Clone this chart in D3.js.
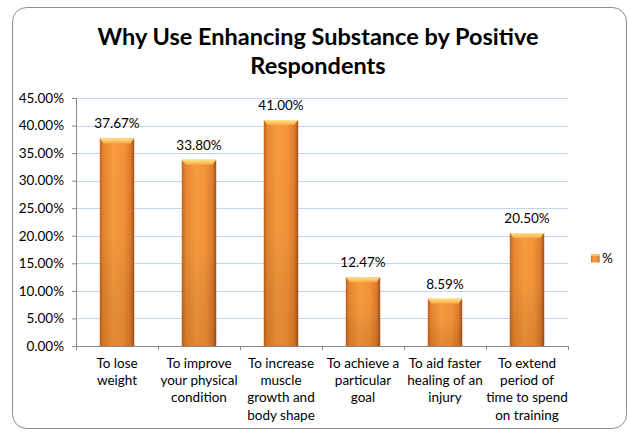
<!DOCTYPE html>
<html><head><meta charset="utf-8">
<script src="https://cdn.jsdelivr.net/npm/d3@7"></script>
<style>body{margin:0;background:#fff}svg{display:block}</style>
</head><body>
<svg id="c" width="629" height="432"></svg>
<script>
const categories = [
  ["To lose","weight"],
  ["To improve","your physical","condition"],
  ["To increase","muscle","growth and","body shape"],
  ["To achieve a","particular","goal"],
  ["To aid faster","healing of an","injury"],
  ["To extend","period of","time to spend","on training"]
];
const values = [37.67, 33.80, 41.00, 12.47, 8.59, 20.50];
const yTicks = [0,5,10,15,20,25,30,35,40,45];
const titleLines = ["Why Use Enhancing Substance by Positive","Respondents"];
const legendLabel = "%";

const svg = d3.select("#c");
const font = "Lato, 'Open Sans', sans-serif";
const defs = svg.append("defs");
const g1 = defs.append("linearGradient").attr("id","barH").attr("x1",0).attr("x2",1).attr("y1",0).attr("y2",0);
[[0,"#c2621f"],[0.1,"#e5862f"],[0.4,"#f79c3e"],[0.7,"#f39439"],[0.9,"#dc7a2b"],[1,"#9a5020"]].forEach(s=>g1.append("stop").attr("offset",s[0]).attr("stop-color",s[1]));
const g2 = defs.append("linearGradient").attr("id","barV").attr("x1",0).attr("x2",0).attr("y1",0).attr("y2",1);
[[0,"#000",0],[0.5,"#000",0.02],[1,"#7a2a00",0.16]].forEach(s=>g2.append("stop").attr("offset",s[0]).attr("stop-color",s[1]).attr("stop-opacity",s[2]));
const g3 = defs.append("linearGradient").attr("id","cap").attr("x1",0).attr("x2",0).attr("y1",0).attr("y2",1);
[[0,"#ffe48a"],[1,"#f9a845"]].forEach(s=>g3.append("stop").attr("offset",s[0]).attr("stop-color",s[1]));

svg.append("rect").attr("x",12.5).attr("y",7.5).attr("width",614).attr("height",421).attr("rx",14)
  .attr("fill","#fff").attr("stroke","#8c8c8c").attr("stroke-width",1);

svg.append("text").attr("text-anchor","middle").attr("font-family",font).attr("font-weight","bold")
  .attr("font-size",23.5).attr("fill","#000")
  .selectAll("tspan").data(titleLines).join("tspan").attr("x",318).attr("y",(d,i)=>45+i*29).text(d=>d);

const x0=76, x1=568, yTop=98, yBot=346;
const x = d3.scaleBand().domain(d3.range(values.length)).range([x0,x1]).paddingInner(0.58).paddingOuter(0.29);
const y = d3.scaleLinear().domain([0,45]).range([yBot,yTop]);

svg.append("g").selectAll("line").data(yTicks.slice(1)).join("line")
  .attr("x1",x0).attr("x2",x1).attr("y1",d=>Math.round(y(d))+0.5).attr("y2",d=>Math.round(y(d))+0.5)
  .attr("stroke","#c5d6ec").attr("stroke-width",1);

const ya = svg.append("g").attr("transform",`translate(${x0},0)`)
  .call(d3.axisLeft(y).tickValues(yTicks).tickSize(4).tickFormat(d=>d.toFixed(2)+"%"));
ya.select(".domain").attr("stroke","#868686");
ya.selectAll(".tick line").attr("stroke","#868686");
ya.selectAll("text").attr("font-family",font).attr("font-size",13.5).attr("fill","#000").attr("x",-12);

const bars = svg.append("g").selectAll("g").data(values).join("g");
bars.append("rect").attr("x",(d,i)=>x(i)).attr("y",d=>y(d)).attr("width",x.bandwidth()).attr("height",d=>yBot-y(d)).attr("fill","url(#barH)");
bars.append("rect").attr("x",(d,i)=>x(i)).attr("y",d=>y(d)).attr("width",x.bandwidth()).attr("height",d=>yBot-y(d)).attr("fill","url(#barV)");
bars.append("path").attr("d",(d,i)=>{const a=x(i),b=a+x.bandwidth(),t=y(d);return `M${a},${t}L${b},${t}L${b-4},${t+5}L${a+4},${t+5}Z`;}).attr("fill","url(#cap)");
bars.append("text").attr("x",(d,i)=>x(i)+x.bandwidth()/2).attr("y",d=>y(d)-10).attr("text-anchor","middle")
  .attr("font-family",font).attr("font-size",13.5).attr("fill","#000").text(d=>d.toFixed(2)+"%");

const xb = d3.scaleBand().domain(d3.range(values.length)).range([x0,x1]);
const xa = svg.append("g").attr("transform",`translate(0,${yBot})`)
  .call(d3.axisBottom(xb).tickSize(0).tickFormat(""));
xa.select(".domain").attr("stroke","#868686");
svg.append("g").selectAll("line").data(d3.range(values.length+1)).join("line")
  .attr("x1",i=>Math.round(x0+i*xb.step())+0.5).attr("x2",i=>Math.round(x0+i*xb.step())+0.5)
  .attr("y1",yBot).attr("y2",yBot+4).attr("stroke","#868686");

svg.append("g").selectAll("text").data(categories).join("text")
  .attr("text-anchor","middle").attr("font-family",font).attr("font-size",13.5).attr("fill","#000")
  .each(function(lines,i){
    d3.select(this).selectAll("tspan").data(lines).join("tspan")
      .attr("x",xb(i)+xb.bandwidth()/2).attr("y",(d,j)=>368+j*17.2).text(d=>d);
  });

svg.append("rect").attr("x",591).attr("y",254).attr("width",8.5).attr("height",8.5).attr("fill","url(#barH)");
svg.append("rect").attr("x",591).attr("y",254).attr("width",8.5).attr("height",2).attr("fill","#fcc46a");
svg.append("text").attr("x",602).attr("y",263).attr("font-family",font).attr("font-size",13.5).text(legendLabel);
</script>
</body></html>
